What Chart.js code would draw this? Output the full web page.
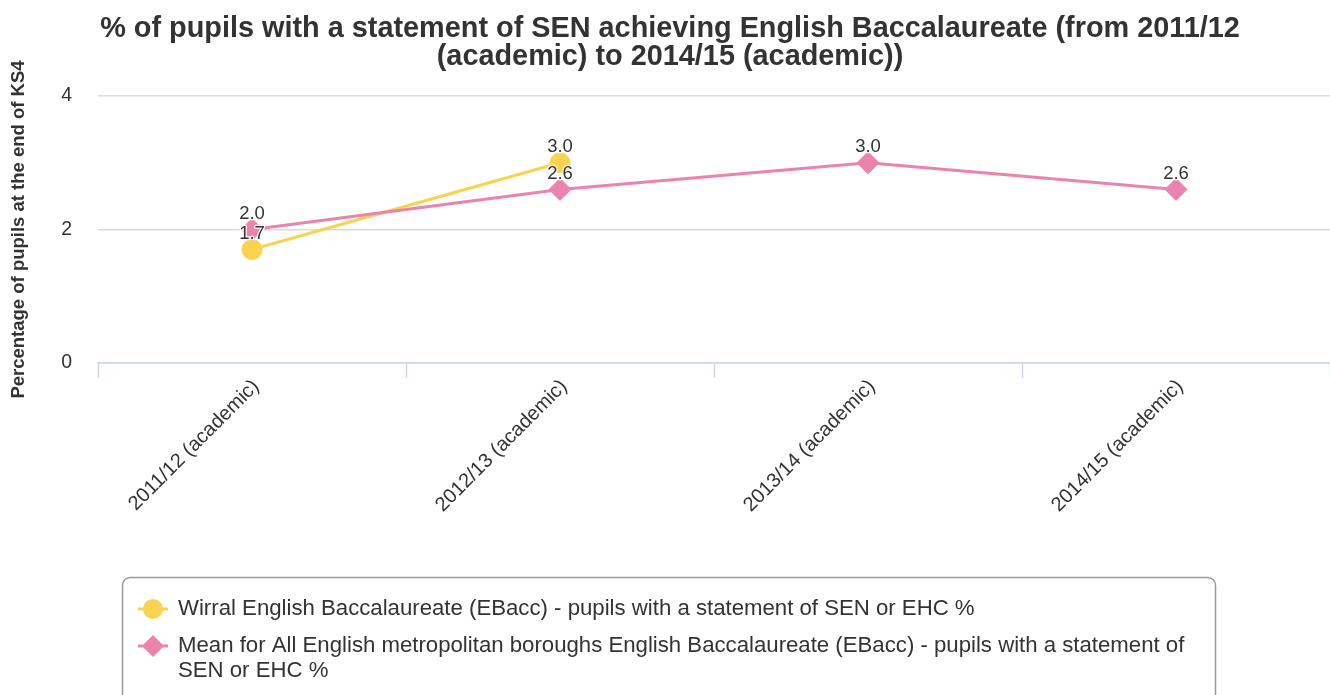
<!DOCTYPE html>
<html>
<head>
<meta charset="utf-8">
<script src="https://cdn.jsdelivr.net/npm/chart.js@4/dist/chart.umd.min.js"></script>
<style>
  html, body { margin: 0; padding: 0; background: #ffffff; }
  #wrap { width: 1330px; height: 695px; position: relative; overflow: hidden; }
</style>
</head>
<body>
<div id="wrap"><canvas id="chart" width="1330" height="695"></canvas></div>
<script>
// Academic years on the x axis
const categories = ['2011/12 (academic)', '2012/13 (academic)', '2013/14 (academic)', '2014/15 (academic)'];
// Wirral only has the first two years
const wirralValues = [1.7, 3.0, null, null];
// Mean for all English metropolitan boroughs
const meanValues = [2.0, 2.6, 3.0, 2.6];
const yTickValues = [0, 2, 4];
const seriesNames = [
  'Wirral English Baccalaureate (EBacc) - pupils with a statement of SEN or EHC %',
  'Mean for All English metropolitan boroughs English Baccalaureate (EBacc) - pupils with a statement of SEN or EHC %'
];
const titleLines = [
  '% of pupils with a statement of SEN achieving English Baccalaureate (from 2011/12',
  '(academic) to 2014/15 (academic))'
];
const yAxisTitle = 'Percentage of pupils at the end of KS4';

const FONT = "'Liberation Sans', Arial, Helvetica, sans-serif";
const TEXT = '#333333';
const YELLOW = '#f9d34f';
const PINK = '#ec83ad';

Chart.defaults.font.family = FONT;
Chart.defaults.color = TEXT;

// Let the plot run to the right edge of the canvas (no marker overflow gutter)
Chart.LineController.prototype.getMaxOverflow = function () { return 0; };

// Value labels above each point, with a thin white halo
const valueLabels = {
  id: 'valueLabels',
  afterDatasetsDraw(chart) {
    const ctx = chart.ctx;
    ctx.save();
    ctx.font = '18.5px ' + FONT;
    ctx.textAlign = 'center';
    ctx.textBaseline = 'middle';
    ctx.lineJoin = 'round';
    chart.data.datasets.forEach((ds, i) => {
      const meta = chart.getDatasetMeta(i);
      meta.data.forEach((pt, j) => {
        const v = ds.data[j];
        if (v === null || v === undefined) return;
        const txt = v.toFixed(1);
        const y = pt.y - 15.5;
        ctx.strokeStyle = 'rgba(255,255,255,0.9)';
        ctx.lineWidth = 2.5;
        ctx.strokeText(txt, pt.x, y);
        ctx.fillStyle = TEXT;
        ctx.fillText(txt, pt.x, y);
      });
    });
    ctx.restore();
  }
};

// Boxed legend under the axis, with wrapped item text
const boxLegend = {
  id: 'boxLegend',
  afterDraw(chart) {
    const ctx = chart.ctx;
    const box = { x: 122.5, y: 577.5, w: 1093, h: 150, r: 8 };
    ctx.save();
    ctx.beginPath();
    ctx.roundRect(box.x, box.y, box.w, box.h, box.r);
    ctx.strokeStyle = '#999999';
    ctx.lineWidth = 1.5;
    ctx.stroke();

    ctx.font = '22.2px ' + FONT;
    ctx.textBaseline = 'middle';
    ctx.textAlign = 'left';
    const textX = 178, maxW = 1030, lineH = 25, itemGap = 12;
    let y = 609;
    chart.data.datasets.forEach((ds) => {
      // symbol: short line plus marker
      ctx.strokeStyle = ds.borderColor;
      ctx.lineWidth = 3;
      ctx.beginPath();
      ctx.moveTo(138, y);
      ctx.lineTo(168, y);
      ctx.stroke();
      ctx.fillStyle = ds.borderColor;
      ctx.beginPath();
      if (ds.pointStyle === 'rectRot') {
        const r = 11;
        ctx.moveTo(153, y - r);
        ctx.lineTo(153 + r, y);
        ctx.lineTo(153, y + r);
        ctx.lineTo(153 - r, y);
        ctx.closePath();
      } else {
        ctx.arc(153, y, 10, 0, Math.PI * 2);
      }
      ctx.fill();

      // wrap label words
      const words = ds.label.split(' ');
      const lines = [];
      let cur = '';
      words.forEach((w) => {
        const test = cur ? cur + ' ' + w : w;
        if (ctx.measureText(test).width > maxW && cur) {
          lines.push(cur);
          cur = w;
        } else {
          cur = test;
        }
      });
      if (cur) lines.push(cur);
      ctx.fillStyle = TEXT;
      lines.forEach((ln, k) => ctx.fillText(ln, textX, y + k * lineH));
      y += lines.length * lineH + itemGap;
    });
    ctx.restore();
  }
};

new Chart(document.getElementById('chart'), {
  type: 'line',
  data: {
    labels: categories,
    datasets: [
      {
        label: seriesNames[0],
        data: wirralValues,
        borderColor: YELLOW,
        backgroundColor: YELLOW,
        pointBackgroundColor: YELLOW,
        pointBorderColor: YELLOW,
        borderWidth: 3,
        pointStyle: 'circle',
        pointRadius: 10,
        pointBorderWidth: 1,
        clip: false,
        order: 1
      },
      {
        label: seriesNames[1],
        data: meanValues,
        borderColor: PINK,
        backgroundColor: PINK,
        pointBackgroundColor: PINK,
        pointBorderColor: PINK,
        borderWidth: 3,
        pointStyle: 'rectRot',
        pointRadius: 11,
        pointBorderWidth: 1,
        clip: false,
        order: 0
      }
    ]
  },
  options: {
    responsive: false,
    animation: false,
    devicePixelRatio: 1,
    layout: { padding: { left: 10, right: 0, top: 0, bottom: 132 } },
    plugins: {
      legend: { display: false },
      tooltip: { enabled: false },
      title: {
        display: true,
        text: titleLines,
        color: TEXT,
        font: { size: 28.85, weight: 'bold', lineHeight: 28 / 28.85 },
        padding: { top: 15, bottom: 25 }
      }
    },
    scales: {
      x: {
        type: 'category',
        offset: true,
        grid: {
          offset: true,
          drawOnChartArea: false,
          drawTicks: true,
          tickLength: 15,
          tickColor: '#ccd6eb',
          tickWidth: 1.5
        },
        border: { display: true, color: '#ccd6eb', width: 1.5 },
        ticks: {
          minRotation: 45,
          maxRotation: 45,
          autoSkip: false,
          color: TEXT,
          font: { size: 20 },
          padding: -3,
          labelOffset: 4
        },
        afterFit(scale) {
          scale.height = 200;
          scale.paddingLeft = 0;
          scale.paddingRight = 0;
        }
      },
      y: {
        min: 0,
        max: 4,
        afterBuildTicks(scale) { scale.ticks = yTickValues.map(v => ({ value: v })); },
        grid: { color: '#dcdcdc', lineWidth: 1.5, drawTicks: false },
        border: { display: false },
        ticks: { color: TEXT, font: { size: 19.5 }, padding: 26 },
        title: {
          display: true,
          text: yAxisTitle,
          color: TEXT,
          font: { size: 18.5, weight: 'bold', lineHeight: 1.2 },
          padding: { top: -2.5, bottom: 0 }
        },
        afterFit(scale) {
          scale.width = 88;
          scale.paddingTop = 0;
          scale.paddingBottom = 0;
        }
      }
    }
  },
  plugins: [valueLabels, boxLegend]
});
</script>
</body>
</html>
